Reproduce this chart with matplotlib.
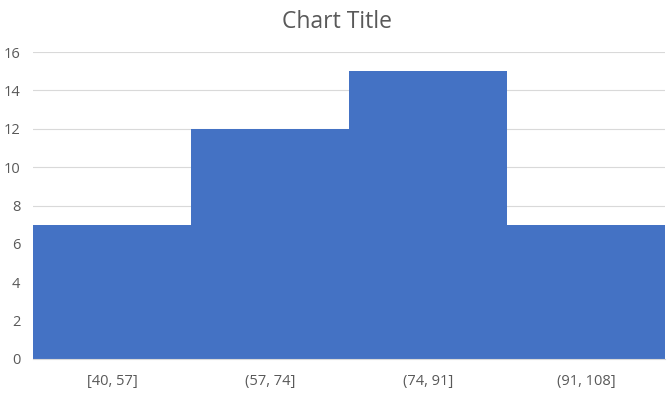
import matplotlib
matplotlib.use('Agg')
import matplotlib.pyplot as plt

# histogram bins and counts
bin_labels = ['[40, 57]', '(57, 74]', '(74, 91]', '(91, 108]']
counts = [7, 12, 15, 7]
y_ticks = [0, 2, 4, 6, 8, 10, 12, 14, 16]

plt.rcParams['font.family'] = ['Open Sans', 'DejaVu Sans']

fig = plt.figure(figsize=(6.72, 3.98), dpi=100)
ax = fig.add_axes([0.049, 0.098, 0.9405, 0.771])

pos = list(range(len(counts)))
ax.bar(pos, counts, width=1.0, color='#4472C4', linewidth=0, zorder=2)

ax.set_xlim(-0.5, len(counts) - 0.5)
ax.set_ylim(0, 16)
ax.set_yticks(y_ticks)
ax.set_xticks(pos)
ax.set_xticklabels(bin_labels)

ax.grid(axis='y', color='#D9D9D9', linewidth=0.8, zorder=0)
for s in ['top', 'right', 'left']:
    ax.spines[s].set_visible(False)
ax.spines['bottom'].set_color('#D9D9D9')
ax.tick_params(axis='both', length=0, colors='#595959', labelsize=10.5)
ax.tick_params(axis='x', pad=11)
ax.tick_params(axis='y', pad=9)

fig.suptitle('Chart Title', x=0.502, y=0.974, fontsize=16.5, color='#595959')

fig.savefig('out.png', dpi=100)
